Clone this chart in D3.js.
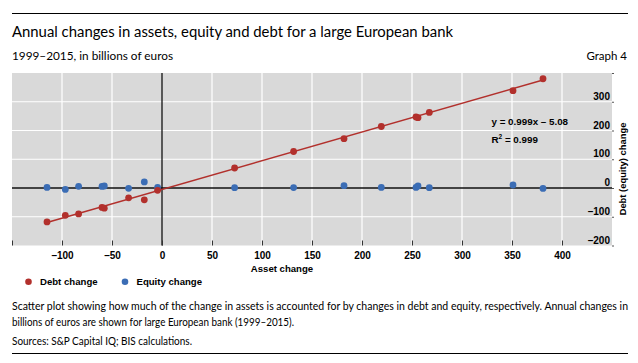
<!DOCTYPE html>
<html>
<head>
<meta charset="utf-8">
<script src="https://cdn.jsdelivr.net/npm/d3@7"></script>
<style>
  body { margin: 0; background: #fff; }
  svg { display: block; }
  .txt { font-family: Lato, "Open Sans", sans-serif; fill: #000; }
  .ax { font-family: "Liberation Sans", Arial, sans-serif; font-weight: bold; fill: #000; }
</style>
</head>
<body>
<svg id="chart" width="638" height="363"></svg>
<script>
// Annual changes, billions of euros (1999-2015)
const assetChange  = [-115, -96.7, -83.4, -60, -57.7, -33.4, -17.7, -4.4, 72.6, 131.6, 182, 219.3, 254, 256, 267.3, 351, 381];
const debtChange   = [-118, -95, -90, -67.5, -70, -34, -41, -8, 69.6, 127, 171.5, 214, 247, 244.5, 263, 338.4, 380];
const equityChange = [2, -5, 6, 5.6, 7, -1, 21, 2, 1, 1.5, 8, 2, 2, 7, 1, 10.4, -1.4];

// fitted line as printed on the chart
const fit = { slope: 0.999, intercept: -5.08 };

const xTicks = [-150, -100, -50, 0, 50, 100, 150, 200, 250, 300, 350, 400];
const xLabels = [-100, -50, 0, 50, 100, 150, 200, 250, 300, 350, 400];
const yTicks = [-200, -100, 0, 100, 200, 300, 400];
const yLabels = [-200, -100, 0, 100, 200, 300];

const red = "#b2302c", blue = "#3b6db5";

const svg = d3.select("#chart");

// frame
const plot = { left: 12, right: 612, top: 73, bottom: 245.5 };

const x = d3.scaleLinear().domain([-150, 450]).range([plot.left, plot.right]);
const y = d3.scaleLinear().domain([-200, 400]).range([plot.bottom, plot.top]);

const fmt = d => d < 0 ? "\u2013" + Math.abs(d) : String(d);

// header
svg.append("line")
  .attr("x1", 12).attr("x2", 628).attr("y1", 13.5).attr("y2", 13.5)
  .attr("stroke", "#000").attr("stroke-width", 1.2);

function fitText(sel, w) {
  sel.attr("textLength", w).attr("lengthAdjust", "spacingAndGlyphs");
}

svg.append("text").attr("class", "txt")
  .attr("x", 12).attr("y", 36.7)
  .style("font-size", "15.5px")
  .text("Annual changes in assets, equity and debt for a large European bank")
  .call(fitText, 441);

svg.append("text").attr("class", "txt")
  .attr("x", 12).attr("y", 60)
  .style("font-size", "11.5px")
  .text("1999\u20132015, in billions of euros")
  .call(fitText, 161);

svg.append("text").attr("class", "txt")
  .attr("x", 627).attr("y", 60)
  .attr("text-anchor", "end")
  .style("font-size", "11.5px")
  .text("Graph 4");

// plot background
svg.append("rect")
  .attr("x", plot.left).attr("y", plot.top)
  .attr("width", plot.right - plot.left).attr("height", plot.bottom - plot.top)
  .attr("fill", "#d9d9d9");

// grid
svg.append("g").selectAll("line")
  .data(xTicks.filter(d => d !== -150 && d !== 0))
  .join("line")
  .attr("x1", d => x(d)).attr("x2", d => x(d))
  .attr("y1", plot.top).attr("y2", plot.bottom)
  .attr("stroke", "#fff").attr("stroke-width", 1.2);

svg.append("g").selectAll("line")
  .data(yTicks.filter(d => d !== -200 && d !== 400 && d !== 0))
  .join("line")
  .attr("x1", plot.left).attr("x2", plot.right)
  .attr("y1", d => y(d)).attr("y2", d => y(d))
  .attr("stroke", "#fff").attr("stroke-width", 1.2);

// zero lines
svg.append("line")
  .attr("x1", plot.left).attr("x2", plot.right)
  .attr("y1", y(0)).attr("y2", y(0))
  .attr("stroke", "#111").attr("stroke-width", 1.3);
svg.append("line")
  .attr("x1", x(0)).attr("x2", x(0))
  .attr("y1", plot.top).attr("y2", plot.bottom)
  .attr("stroke", "#111").attr("stroke-width", 1.3);

// x axis
const xAxis = svg.append("g")
  .attr("class", "ax")
  .attr("transform", `translate(0,${plot.bottom})`)
  .call(d3.axisBottom(x).tickValues(xTicks).tickSizeInner(-5).tickSizeOuter(0).tickPadding(6.5)
    .tickFormat(d => xLabels.includes(d) ? fmt(d) : ""));
xAxis.select(".domain").remove();
xAxis.selectAll(".tick line").attr("stroke", "#333").attr("stroke-width", 1);
xAxis.selectAll(".tick text")
  .attr("fill", "#000")
  .style("font-family", "'Liberation Sans', Arial, sans-serif")
  .style("font-weight", "bold")
  .style("font-size", "10px");

svg.append("text").attr("class", "ax")
  .attr("x", 282).attr("y", 271.5)
  .attr("text-anchor", "middle")
  .style("font-size", "9.6px")
  .text("Asset change");

// y axis (right)
const yAxis = svg.append("g")
  .attr("transform", `translate(${plot.right},0)`)
  .call(d3.axisRight(y).tickValues(yTicks).tickSizeInner(2).tickSizeOuter(0)
    .tickFormat(d => yLabels.includes(d) ? fmt(d) : ""));
yAxis.select(".domain").remove();
yAxis.selectAll(".tick line").attr("stroke", "#555").attr("stroke-width", 1);
yAxis.selectAll(".tick text")
  .attr("x", -2).attr("dy", "-2.5")
  .attr("text-anchor", "end")
  .attr("fill", "#000")
  .style("font-family", "'Liberation Sans', Arial, sans-serif")
  .style("font-weight", "bold")
  .style("font-size", "10px");

svg.append("text").attr("class", "ax")
  .attr("transform", "translate(626,169) rotate(-90)")
  .attr("text-anchor", "middle")
  .style("font-size", "9.4px")
  .text("Debt (equity) change");

// regression line across the debt points
const xMin = d3.min(assetChange), xMax = d3.max(assetChange);
svg.append("line")
  .attr("x1", x(xMin)).attr("y1", y(fit.slope * xMin + fit.intercept))
  .attr("x2", x(xMax)).attr("y2", y(fit.slope * xMax + fit.intercept))
  .attr("stroke", red).attr("stroke-width", 1.4);

// points
const points = assetChange.map((a, i) => ({ a, debt: debtChange[i], equity: equityChange[i] }));

svg.append("g").selectAll("circle")
  .data(points)
  .join("circle")
  .attr("cx", d => x(d.a)).attr("cy", d => y(d.equity))
  .attr("r", 3.4).attr("fill", blue);

svg.append("g").selectAll("circle")
  .data(points)
  .join("circle")
  .attr("cx", d => x(d.a)).attr("cy", d => y(d.debt))
  .attr("r", 3.4).attr("fill", red);

// equation
svg.append("text").attr("class", "ax")
  .attr("x", 491.5).attr("y", 125)
  .style("font-size", "9.8px")
  .text(`y = ${fit.slope}x \u2013 ${Math.abs(fit.intercept).toFixed(2)}`);

const r2 = svg.append("text").attr("class", "ax")
  .attr("x", 491.5).attr("y", 143)
  .style("font-size", "9.8px");
r2.append("tspan").text("R");
r2.append("tspan").attr("dy", -4).style("font-size", "6.5px").text("2");
r2.append("tspan").attr("dy", 4).text(" = 0.999");

// legend
const legend = [
  { label: "Debt change", color: red, x: 28.5 },
  { label: "Equity change", color: blue, x: 125 }
];
const lg = svg.append("g").selectAll("g").data(legend).join("g");
lg.append("circle")
  .attr("cx", d => d.x).attr("cy", 281.7).attr("r", 3.3)
  .attr("fill", d => d.color);
lg.append("text").attr("class", "ax")
  .attr("x", d => d.x + 11.5).attr("y", 285)
  .style("font-size", "9.6px")
  .text(d => d.label);

// footnote
svg.append("text").attr("class", "txt")
  .attr("x", 12).attr("y", 310)
  .style("font-size", "10.5px")
  .text("Scatter plot showing how much of the change in assets is accounted for by changes in debt and equity, respectively. Annual changes in")
  .call(fitText, 616);

svg.append("text").attr("class", "txt")
  .attr("x", 12).attr("y", 326)
  .style("font-size", "10.5px")
  .text("billions of euros are shown for large European bank (1999\u20132015).")
  .call(fitText, 282);

svg.append("text").attr("class", "txt")
  .attr("x", 12).attr("y", 345)
  .style("font-size", "10.5px")
  .text("Sources: S&P Capital IQ; BIS calculations.")
  .call(fitText, 180);

svg.append("line")
  .attr("x1", 12).attr("x2", 628).attr("y1", 353.5).attr("y2", 353.5)
  .attr("stroke", "#000").attr("stroke-width", 1.2);
</script>
</body>
</html>
